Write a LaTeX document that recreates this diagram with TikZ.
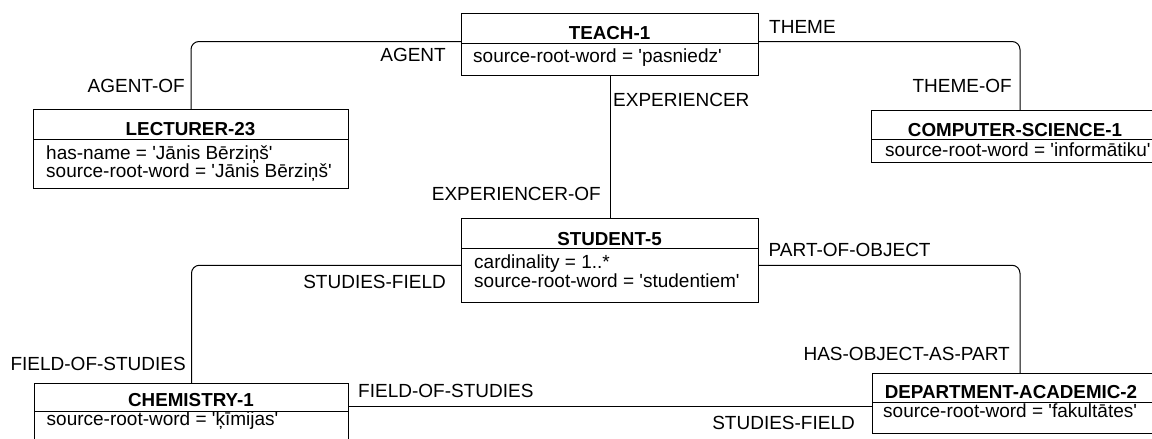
\documentclass[tikz,border=0pt]{standalone}
\usepackage{fontspec}
\setmainfont{Liberation Sans}
\usetikzlibrary{calc}
\newcommand{\aps}{\textquotesingle}
\begin{document}
\begin{tikzpicture}[x=1pt,y=-1pt,
  box/.style={draw, line width=1pt, inner sep=0pt, anchor=north west},
  sepline/.style={line width=1pt},
  conn/.style={line width=1pt, rounded corners=8pt},
  ttl/.style={inner sep=0pt, anchor=base, font=\fontsize{18.8}{22}\selectfont\bfseries},
  attr/.style={inner sep=0pt, anchor=base west, font=\fontsize{19}{22}\selectfont},
  lblw/.style={inner sep=0pt, anchor=base west, font=\fontsize{19}{22}\selectfont},
  lble/.style={inner sep=0pt, anchor=base east, font=\fontsize{19}{22}\selectfont}]
\useasboundingbox (0,0) rectangle (1152,439);
\coordinate (rx) at (1020,0);

% TEACH-1
\node[box, minimum width=297pt, minimum height=62pt] (teach) at (461,13) {};
\draw[sepline] (461,43) -- (758,43);
\node[ttl] (teach-t) at (609.5,39) {TEACH-1};
\node[attr] (teach-a) at (473,62) {source-root-word = \aps pasniedz\aps};

% LECTURER-23
\node[box, minimum width=315pt, minimum height=79pt] (lect) at (33,109) {};
\draw[sepline] (33,139) -- (348,139);
\node[ttl] (lect-t) at (190.5,135) {LECTURER-23};
\node[attr] (lect-a1) at (46,159.5) {has-name = \aps Jānis Bērziņš\aps};
\node[attr] (lect-a2) at (46,177.5) {source-root-word = \aps Jānis Bērziņš\aps};

% COMPUTER-SCIENCE-1
\node[box, minimum width=288pt, minimum height=52pt] (cs) at (871,110) {};
\draw[sepline] (871,139) -- (1159,139);
\node[ttl] (cs-t) at (1015,136) {COMPUTER-SCIENCE-1};
\node[attr] (cs-a) at (885,156) {source-root-word = \aps informātiku\aps};

% STUDENT-5
\node[box, minimum width=297pt, minimum height=84.5pt] (stud) at (461,217.5) {};
\draw[sepline] (461,248) -- (758,248);
\node[ttl] (stud-t) at (609.5,245) {STUDENT-5};
\node[attr] (stud-a1) at (474,268) {cardinality = 1..*};
\node[attr] (stud-a2) at (474,287) {source-root-word = \aps studentiem\aps};

% CHEMISTRY-1
\node[box, minimum width=314pt, minimum height=60pt] (chem) at (34,383) {};
\draw[sepline] (34,411) -- (348,411);
\node[ttl] (chem-t) at (191,406) {CHEMISTRY-1};
\node[attr] (chem-a) at (46.5,425) {source-root-word = \aps ķīmijas\aps};

% DEPARTMENT-ACADEMIC-2
\node[box, minimum width=282pt, minimum height=60pt] (dept) at (872,373) {};
\draw[sepline] (872,402) -- (1154,402);
\node[ttl] (dept-t) at (1011,398) {DEPARTMENT-ACADEMIC-2};
\node[attr] (dept-a) at (883,417) {source-root-word = \aps fakultātes\aps};

% connectors
\draw[conn] ([yshift=3pt]teach.west) -| (lect.north);
\draw[conn] ([yshift=3pt]teach.east) -| (cs.north -| rx);
\draw[conn] (teach.south) -- (stud.north);
\draw[conn] ([yshift=-5pt]stud.west) -| (chem.north);
\draw[conn] ([yshift=-5pt]stud.east) -| (dept.north -| rx);
\draw[conn] ([yshift=7pt]chem.east) -- ([yshift=-3pt]dept.west);

% labels
\node[lble] (l-agent) at (446,61) {AGENT};
\node[lblw] (l-theme) at (769,33) {THEME};
\node[lblw] (l-exp) at (613,106.5) {EXPERIENCER};
\node[lble] (l-agentof) at (185,92.5) {AGENT-OF};
\node[lble] (l-themeof) at (1012,92.5) {THEME-OF};
\node[lble] (l-expof) at (601,200.5) {EXPERIENCER-OF};
\node[lble] (l-sf1) at (446,288) {STUDIES-FIELD};
\node[lblw] (l-poo) at (768.5,256) {PART-OF-OBJECT};
\node[lble] (l-fos1) at (186,370) {FIELD-OF-STUDIES};
\node[lble] (l-hoap) at (1010,360.5) {HAS-OBJECT-AS-PART};
\node[lblw] (l-fos2) at (358,397) {FIELD-OF-STUDIES};
\node[lble] (l-sf2) at (855,429) {STUDIES-FIELD};
\end{tikzpicture}
\end{document}
